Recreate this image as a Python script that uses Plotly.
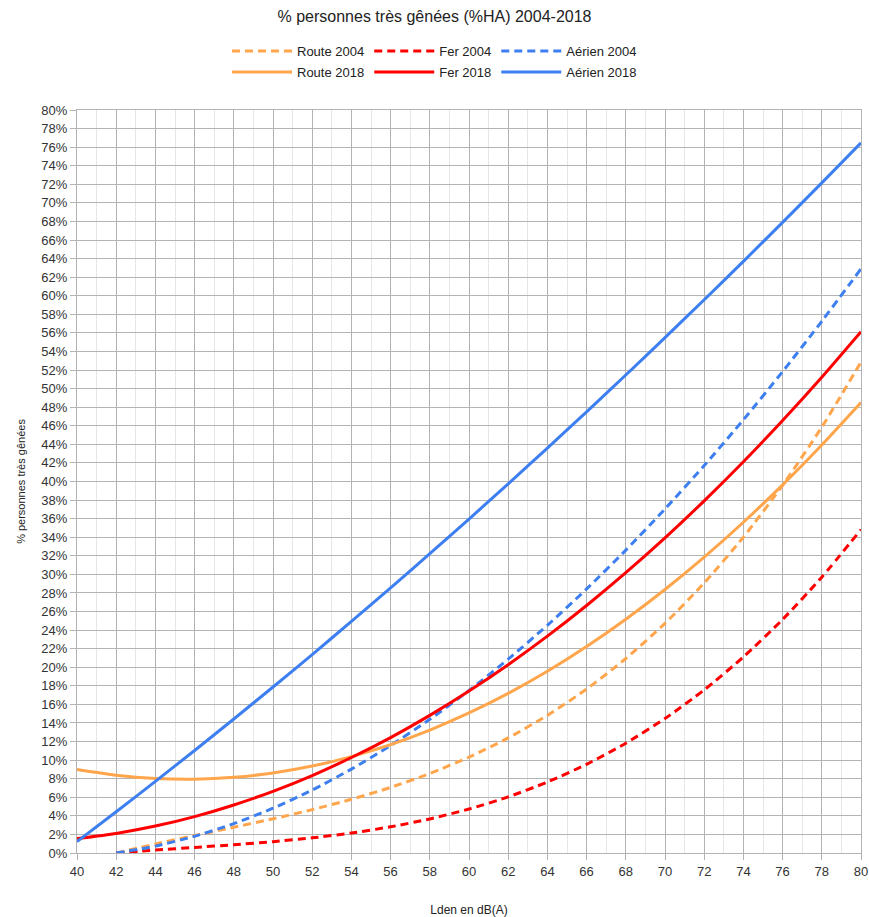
import plotly.graph_objects as go

lden_2018 = [40, 42, 44, 46, 48, 50, 52, 54, 56, 58, 60, 62, 64, 66, 68, 70, 72, 74, 76, 78, 80]
lden_2004 = [42, 44, 46, 48, 50, 52, 54, 56, 58, 60, 62, 64, 66, 68, 70, 72, 74, 76, 78, 80]

route_2018 = [9.00, 8.38, 8.03, 7.95, 8.15, 8.62, 9.36, 10.38, 11.67, 13.24, 15.08, 17.19, 19.57, 22.23, 25.17, 28.37, 31.85, 35.61, 39.64, 43.94, 48.51]
fer_2018 = [1.55, 2.11, 2.90, 3.92, 5.17, 6.64, 8.34, 10.28, 12.43, 14.82, 17.44, 20.28, 23.35, 26.65, 30.18, 33.93, 37.92, 42.13, 46.57, 51.23, 56.13]
aerien_2018 = [1.22, 4.44, 7.71, 11.04, 14.43, 17.87, 21.37, 24.93, 28.55, 32.23, 35.96, 39.75, 43.60, 47.50, 51.47, 55.49, 59.57, 63.70, 67.90, 72.15, 76.46]

route_2004 = [0.00, 0.97, 1.88, 2.77, 3.68, 4.67, 5.78, 7.06, 8.56, 10.32, 12.39, 14.82, 17.65, 20.94, 24.73, 29.07, 34.01, 39.59, 45.86, 52.86]
fer_2004 = [0.00, 0.31, 0.60, 0.89, 1.22, 1.63, 2.15, 2.82, 3.67, 4.73, 6.04, 7.64, 9.55, 11.82, 14.48, 17.56, 21.11, 25.14, 29.70, 34.82]
aerien_2004 = [0.00, 0.74, 1.80, 3.16, 4.82, 6.78, 9.03, 11.57, 14.39, 17.49, 20.87, 24.52, 28.43, 32.61, 37.04, 41.72, 46.65, 51.83, 57.25, 62.90]

x_ticks = list(range(40, 81, 2))
y_ticks = list(range(0, 81, 2))
y_tick_labels = [f"{v}%" for v in y_ticks]

ORANGE = "#ffa64d"
RED = "#ff0000"
BLUE = "#3d7ff0"

fig = go.Figure()
dash = "8px,5px"
for name, y, c in [("Route 2004", route_2004, ORANGE), ("Fer 2004", fer_2004, RED), ("Aérien 2004", aerien_2004, BLUE)]:
    fig.add_trace(go.Scatter(x=lden_2004, y=y, name=name, mode="lines",
                             line=dict(color=c, width=3, dash=dash, shape="spline", smoothing=0.6),
                             legend="legend"))
for name, y, c in [("Route 2018", route_2018, ORANGE), ("Fer 2018", fer_2018, RED), ("Aérien 2018", aerien_2018, BLUE)]:
    fig.add_trace(go.Scatter(x=lden_2018, y=y, name=name, mode="lines",
                             line=dict(color=c, width=3, shape="spline", smoothing=0.6),
                             legend="legend2"))

font = "Liberation Sans, Arial, sans-serif"
leg_common = dict(orientation="h", xref="container", yref="container", x=0.5, xanchor="center",
                  yanchor="middle", font=dict(family=font, size=13, color="#222"),
                  bgcolor="rgba(0,0,0,0)", itemwidth=60, tracegroupgap=0)

fig.update_layout(
    width=869, height=917,
    paper_bgcolor="white", plot_bgcolor="white",
    margin=dict(l=77, r=8, t=110, b=64, autoexpand=False),
    font=dict(family=font, color="#333"),
    title=dict(text="% personnes très gênées (%HA) 2004-2018", x=0.5, xanchor="center",
               y=1 - 16 / 917, yanchor="middle", yref="container",
               font=dict(family=font, size=16, color="#222")),
    legend=dict(y=1 - 51 / 917, **leg_common),
    legend2=dict(y=1 - 72 / 917, **leg_common),
    xaxis=dict(range=[40, 80], tickvals=x_ticks, showgrid=True, gridcolor="#b3b3b3", gridwidth=1,
               minor=dict(dtick=1, showgrid=True, gridcolor="#e6e6e6", gridwidth=1),
               showline=True, linecolor="#b3b3b3", mirror=True, ticks="outside", ticklen=6,
               tickcolor="#b3b3b3", tickfont=dict(size=13, color="#333"), zeroline=False,
               automargin=False,
               title=dict(text="Lden en dB(A)", font=dict(size=12, color="#222"), standoff=30)),
    yaxis=dict(range=[0, 80], tickvals=y_ticks, ticktext=y_tick_labels, showgrid=True, gridcolor="#b3b3b3",
               gridwidth=1, showline=True, linecolor="#b3b3b3", mirror=True, ticks="outside",
               ticklen=6, tickcolor="#b3b3b3", tickfont=dict(size=13, color="#333"), zeroline=False,
               automargin=False,
               title=dict(text="% personnes très gênées", font=dict(size=11, color="#222"), standoff=13)),
)

fig.write_html("out.html", config={"displayModeBar": False},
               post_script="document.body.style.margin='0';document.body.style.overflow='hidden';")
